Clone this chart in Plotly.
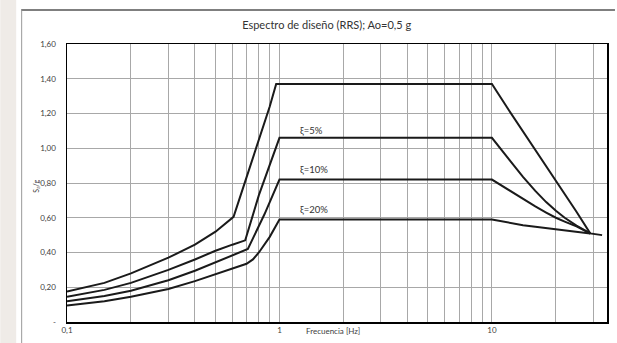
import numpy as np
import plotly.graph_objects as go

# ---------------- data ----------------
freq_top = [0.1, 0.15, 0.2, 0.3, 0.4, 0.5, 0.608, 0.7, 0.8, 0.9, 0.965, 10, 12, 14, 16, 18, 20, 22, 25, 29, 33]
sa_top   = [0.175, 0.225, 0.28, 0.37, 0.445, 0.52, 0.605, 0.83, 1.04, 1.24, 1.37, 1.37, 1.22, 1.098, 0.99, 0.895, 0.81, 0.735, 0.635, 0.51, 0.50]

freq_5 = [0.1, 0.15, 0.2, 0.3, 0.4, 0.5, 0.6, 0.69, 0.8, 0.9, 1.0, 10, 12, 14, 16, 18, 20, 22, 25, 29]
sa_5   = [0.145, 0.185, 0.225, 0.30, 0.36, 0.41, 0.445, 0.47, 0.73, 0.90, 1.06, 1.06, 0.94, 0.835, 0.755, 0.69, 0.64, 0.60, 0.555, 0.51]

freq_10 = [0.1, 0.15, 0.2, 0.3, 0.4, 0.5, 0.6, 0.71, 0.85, 1.0, 10, 12, 14, 16, 18, 20, 22, 25, 29]
sa_10   = [0.12, 0.15, 0.18, 0.24, 0.295, 0.345, 0.385, 0.42, 0.62, 0.82, 0.82, 0.76, 0.705, 0.665, 0.63, 0.60, 0.578, 0.55, 0.51]

freq_20 = [0.1, 0.15, 0.2, 0.3, 0.4, 0.5, 0.6, 0.7, 0.75, 0.8, 0.9, 1.0, 10, 12, 14, 16, 20, 25, 29]
sa_20   = [0.095, 0.12, 0.145, 0.19, 0.235, 0.275, 0.305, 0.335, 0.36, 0.40, 0.49, 0.59, 0.59, 0.57, 0.557, 0.548, 0.535, 0.52, 0.51]

label_text = ["ξ=5%", "ξ=10%", "ξ=20%"]
label_freq = [1.42, 1.45, 1.45]
label_sa   = [1.105, 0.88, 0.645]

x_tickvals = [0.1, 1, 10]
x_ticktext = ["0,1", "1", "10"]
x_minor_grid = [0.2, 0.3, 0.4, 0.5, 0.6, 0.7, 0.8, 0.9, 2, 3, 4, 5, 6, 7, 8, 9, 20, 30]
y_tickvals = [0, 0.2, 0.4, 0.6, 0.8, 1.0, 1.2, 1.4, 1.6]
y_ticktext = ["-", "0,20", "0,40", "0,60", "0,80", "1,00", "1,20", "1,40", "1,60"]

title_text = "Espectro de diseño (RRS); Ao=0,5 g"
x_title = "Frecuencia [Hz]"
y_title = "S<sub>a</sub>/g"

# ---------------- figure ----------------
W, H = 617, 343
L, R, T, B = 67, 8, 44, 21
FONT = "Lato, 'Open Sans', sans-serif"
GRID = "#a8a8a8"

fig = go.Figure()
for fx, fy in [(freq_top, sa_top), (freq_5, sa_5), (freq_10, sa_10), (freq_20, sa_20)]:
    fig.add_trace(go.Scatter(x=fx, y=fy, mode="lines",
                             line=dict(color="#1a1a1a", width=2),
                             showlegend=False, hoverinfo="skip"))

for t, fx, fy in zip(label_text, label_freq, label_sa):
    fig.add_annotation(x=np.log10(fx), y=fy, text=t, showarrow=False,
                       font=dict(family=FONT, size=9.5, color="#333333"))

pw = W - L - R
ph = H - T - B
def px_to_paper_x(px):
    return (px - L) / pw
def px_to_paper_y(py):
    return (H - B - py) / ph

# beige strip on the left, panel border lines
fig.add_shape(type="rect", xref="paper", yref="paper", layer="below",
              x0=px_to_paper_x(0), x1=px_to_paper_x(16),
              y0=px_to_paper_y(H), y1=px_to_paper_y(0),
              fillcolor="#efebe7", line=dict(width=0))
fig.add_shape(type="line", xref="paper", yref="paper", layer="below",
              x0=px_to_paper_x(21), x1=px_to_paper_x(W),
              y0=px_to_paper_y(10), y1=px_to_paper_y(10),
              line=dict(color="#555555", width=1.5))
fig.add_shape(type="line", xref="paper", yref="paper", layer="below",
              x0=px_to_paper_x(21.5), x1=px_to_paper_x(21.5),
              y0=px_to_paper_y(10), y1=px_to_paper_y(H),
              line=dict(color="#9a9a9a", width=1))

fig.add_annotation(xref="paper", yref="paper",
                   x=px_to_paper_x(334), y=px_to_paper_y(338),
                   text=x_title, showarrow=False,
                   font=dict(family=FONT, size=8, color="#404040"))
fig.add_annotation(xref="paper", yref="paper",
                   x=px_to_paper_x(30), y=px_to_paper_y(186),
                   text=y_title, showarrow=False, textangle=-90,
                   font=dict(family=FONT, size=7, color="#404040"))

fig.update_layout(
    width=W, height=H,
    margin=dict(l=L, r=R, t=T, b=B),
    paper_bgcolor="white",
    plot_bgcolor="white",
    title=dict(text=title_text, xref="container", yref="container",
               x=326.7 / W, y=1 - 25 / H, xanchor="center", yanchor="middle",
               font=dict(family=FONT, size=11, color="#333333")),
    xaxis=dict(type="log", range=[-1, np.log10(34.8)],
               tickmode="array", tickvals=x_tickvals, ticktext=x_ticktext,
               showgrid=True, gridcolor=GRID, gridwidth=1,
               minor=dict(tickmode="array", tickvals=x_minor_grid,
                          showgrid=True, gridcolor=GRID, gridwidth=1, ticks=""),
               showline=True, linecolor="black", linewidth=1.5, mirror=True,
               ticks="", zeroline=False,
               tickfont=dict(family=FONT, size=8, color="#404040")),
    yaxis=dict(range=[0, 1.6], tickmode="array",
               tickvals=y_tickvals, ticktext=y_ticktext,
               showgrid=True, gridcolor=GRID, gridwidth=1,
               showline=True, linecolor="black", linewidth=1.5, mirror=True,
               ticks="", zeroline=False, ticklabelstandoff=8,
               tickfont=dict(family=FONT, size=8, color="#404040")),
)

fig.write_html("out.html",
               config={"displayModeBar": False, "staticPlot": True},
               post_script="document.body.style.margin='0px';"
                           "document.body.style.overflow='hidden';")
